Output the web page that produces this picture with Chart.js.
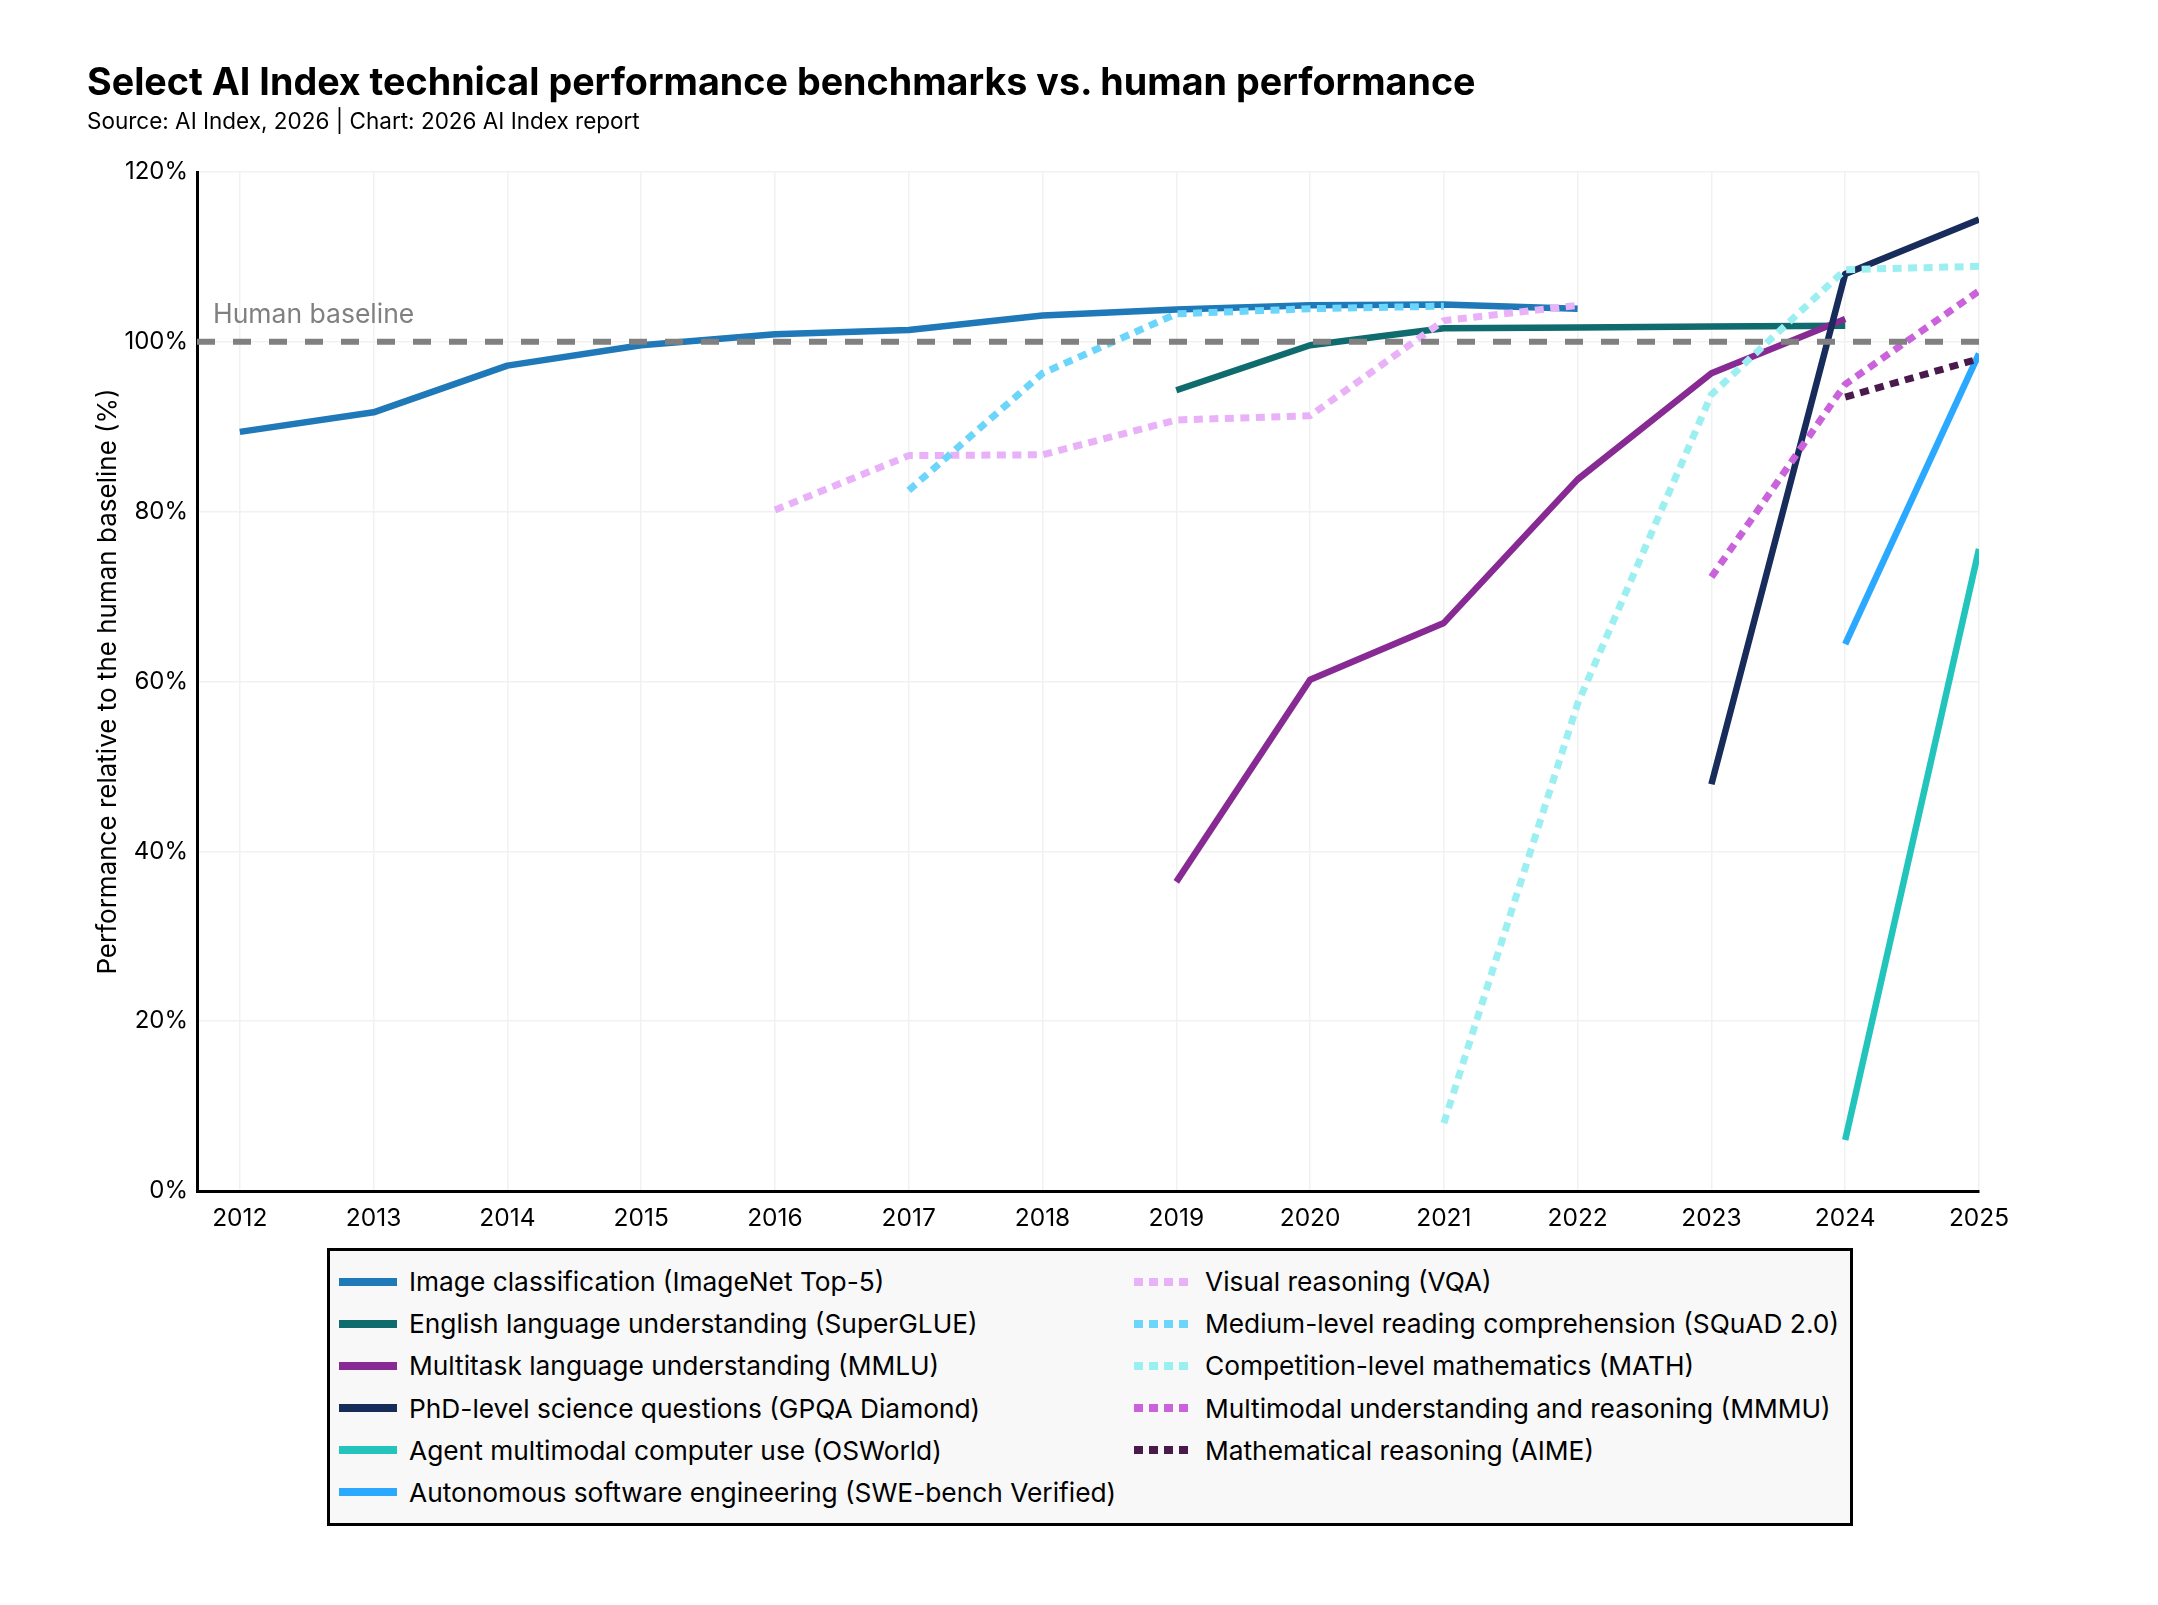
<!DOCTYPE html>
<html>
<head>
<meta charset="utf-8">
<script src="https://cdn.jsdelivr.net/npm/chart.js@4.4.1/dist/chart.umd.min.js"></script>
<style>
  html, body { margin: 0; padding: 0; background: #fff; }
  body { width: 2158px; height: 1605px; position: relative; overflow: hidden; font-family: Inter, "Noto Sans", sans-serif; color: #000; }
  #chart { position: absolute; left: 0; top: 0; }
  .title { position: absolute; left: 87px; top: 63px; font-size: 37.7px; font-weight: 700; line-height: 1; white-space: nowrap; }
  .subtitle { position: absolute; left: 87px; top: 110px; font-size: 22.5px; line-height: 1; white-space: nowrap; }
  #legend { position: absolute; left: 327px; top: 1248px; width: 1526px; height: 278px; box-sizing: border-box; border: 3px solid #000; background: #f8f8f8; }
  .item { position: absolute; display: flex; align-items: center; height: 42px; font-size: 26.3px; white-space: nowrap; }
  .swatch { height: 8px; flex: none; }
</style>
</head>
<body>
<canvas id="chart" width="2158" height="1605"></canvas>
<div class="title">Select AI Index technical performance benchmarks vs. human performance</div>
<div class="subtitle">Source: AI Index, 2026 | Chart: 2026 AI Index report</div>
<div id="legend"></div>
<script>
// ------------ data -------------

const years = [2012, 2013, 2014, 2015, 2016, 2017, 2018, 2019, 2020, 2021, 2022, 2023, 2024, 2025];
const baseline = 100;

// values in % of the human baseline, one per year (null = no result)
const imagenet  = [89.4, 91.7, 97.2, 99.6, 100.9, 101.4, 103.1, 103.8, 104.3, 104.4, 103.9, null, null, null];
const superglue = [null, null, null, null, null, null, null, 94.3, 99.6, 101.6, 101.7, 101.8, 101.9, null];
const mmlu      = [null, null, null, null, null, null, null, 36.4, 60.2, 66.9, 83.8, 96.3, 102.7, null];
const gpqa      = [null, null, null, null, null, null, null, null, null, null, null, 47.9, 108.0, 114.4];
const osworld   = [null, null, null, null, null, null, null, null, null, null, null, null, 6.0, 75.6];
const swebench  = [null, null, null, null, null, null, null, null, null, null, null, null, 64.4, 98.6];
const vqa       = [null, null, null, null, 80.2, 86.6, 86.7, 90.8, 91.3, 102.5, 104.3, null, null, null];
const squad     = [null, null, null, null, null, 82.5, 96.3, 103.3, 103.9, 104.2, null, null, null, null];
const math      = [null, null, null, null, null, null, null, null, null, 8.0, 57.4, 93.8, 108.5, 108.9];
const mmmu      = [null, null, null, null, null, null, null, null, null, null, null, 72.3, 95.0, 106.0];
const aime      = [null, null, null, null, null, null, null, null, null, null, null, null, 93.5, 98.0];

const series = [
  { label: 'Image classification (ImageNet Top-5)', values: imagenet },
  { label: 'English language understanding (SuperGLUE)', values: superglue },
  { label: 'Multitask language understanding (MMLU)', values: mmlu },
  { label: 'PhD-level science questions (GPQA Diamond)', values: gpqa },
  { label: 'Agent multimodal computer use (OSWorld)', values: osworld },
  { label: 'Autonomous software engineering (SWE-bench Verified)', values: swebench },
  { label: 'Visual reasoning (VQA)', values: vqa },
  { label: 'Medium-level reading comprehension (SQuAD 2.0)', values: squad },
  { label: 'Competition-level mathematics (MATH)', values: math },
  { label: 'Multimodal understanding and reasoning (MMMU)', values: mmmu },
  { label: 'Mathematical reasoning (AIME)', values: aime }
];

// ------------ style -------------

const colors = ['#1f78b8', '#0f6b6d', '#872a94', '#182c5c', '#22c4bb', '#2ba8ff',
                '#e9b1f8', '#6bd5fb', '#9ceff0', '#c962db', '#4a1a4c'];
const dotted = [false, false, false, false, false, false, true, true, true, true, true];
const font = 'Inter';
const xStart = 2011.68;

const datasets = series.map((s, i) => ({
  label: s.label,
  data: years.map((yr, j) => ({ x: yr, y: s.values[j] })),
  borderColor: colors[i],
  backgroundColor: colors[i],
  borderWidth: dotted[i] ? 7 : 6.5,
  borderDash: dotted[i] ? [9, 6.5] : [],
  borderCapStyle: 'butt',
  borderJoinStyle: 'round',
  pointRadius: 0,
  pointHoverRadius: 0,
  tension: 0,
  clip: 0,
  order: series.length - i
}));

datasets.push({
  label: 'Human baseline',
  data: [{ x: xStart, y: baseline }, { x: years[years.length - 1], y: baseline }],
  borderColor: '#808080',
  borderWidth: 6,
  borderDash: [18, 18],
  borderCapStyle: 'butt',
  pointRadius: 0,
  clip: 0,
  order: -1
});

const baselineLabel = {
  id: 'baselineLabel',
  afterDatasetsDraw(chart) {
    const { ctx, scales: { x, y } } = chart;
    ctx.save();
    ctx.font = '26.5px ' + font;
    ctx.fillStyle = '#808080';
    ctx.textBaseline = 'alphabetic';
    ctx.fillText('Human baseline', x.left + 16, y.getPixelForValue(baseline) - 19);
    ctx.restore();
  }
};

const config = {
  type: 'line',
  data: { datasets: datasets },
  options: {
    responsive: false,
    animation: false,
    events: [],
    layout: { padding: { left: 93, top: 172, right: 179, bottom: 354 } },
    plugins: { legend: { display: false }, tooltip: { enabled: false } },
    scales: {
      x: {
        type: 'linear',
        min: xStart,
        max: years[years.length - 1],
        afterBuildTicks: s => { s.ticks = years.map(v => ({ value: v })); },
        afterFit: s => { s.height = 60; },
        ticks: { callback: v => String(v), font: { family: font, size: 24.5 }, color: '#000', padding: 13, maxRotation: 0, autoSkip: false },
        grid: { color: '#f1f1f1', lineWidth: 1.5, drawTicks: false },
        border: { color: '#000', width: 3 }
      },
      y: {
        min: 0,
        max: 120,
        afterFit: s => { s.width = 104; },
        ticks: { stepSize: 20, callback: v => v + '%', font: { family: font, size: 24 }, color: '#000', padding: 9 },
        grid: { color: '#f1f1f1', lineWidth: 1.5, drawTicks: false },
        border: { color: '#000', width: 3 },
        title: { display: true, text: 'Performance relative to the human baseline (%)', font: { family: font, size: 26 }, color: '#000', padding: { top: 0, bottom: 0 } }
      }
    }
  },
  plugins: [baselineLabel]
};

var myChart = new Chart(document.getElementById('chart'), config);

// --------- legend in two columns

const legendEl = document.getElementById('legend');
series.forEach((s, i) => {
  const col = i < 6 ? 0 : 1;
  const row = col ? i - 6 : i;
  const item = document.createElement('div');
  item.className = 'item';
  item.style.left = (col ? 804 : 9) + 'px';
  item.style.top = (9.7 + row * 42.1) + 'px';
  const sw = document.createElement('span');
  sw.className = 'swatch';
  sw.style.width = (col ? 56 : 58) + 'px';
  sw.style.marginRight = (col ? 15 : 12) + 'px';
  sw.style.background = dotted[i]
    ? 'repeating-linear-gradient(90deg, ' + colors[i] + ' 0 9px, transparent 9px 15px)'
    : colors[i];
  const txt = document.createElement('span');
  txt.textContent = s.label;
  item.appendChild(sw);
  item.appendChild(txt);
  legendEl.appendChild(item);
});
</script>
</body>
</html>
